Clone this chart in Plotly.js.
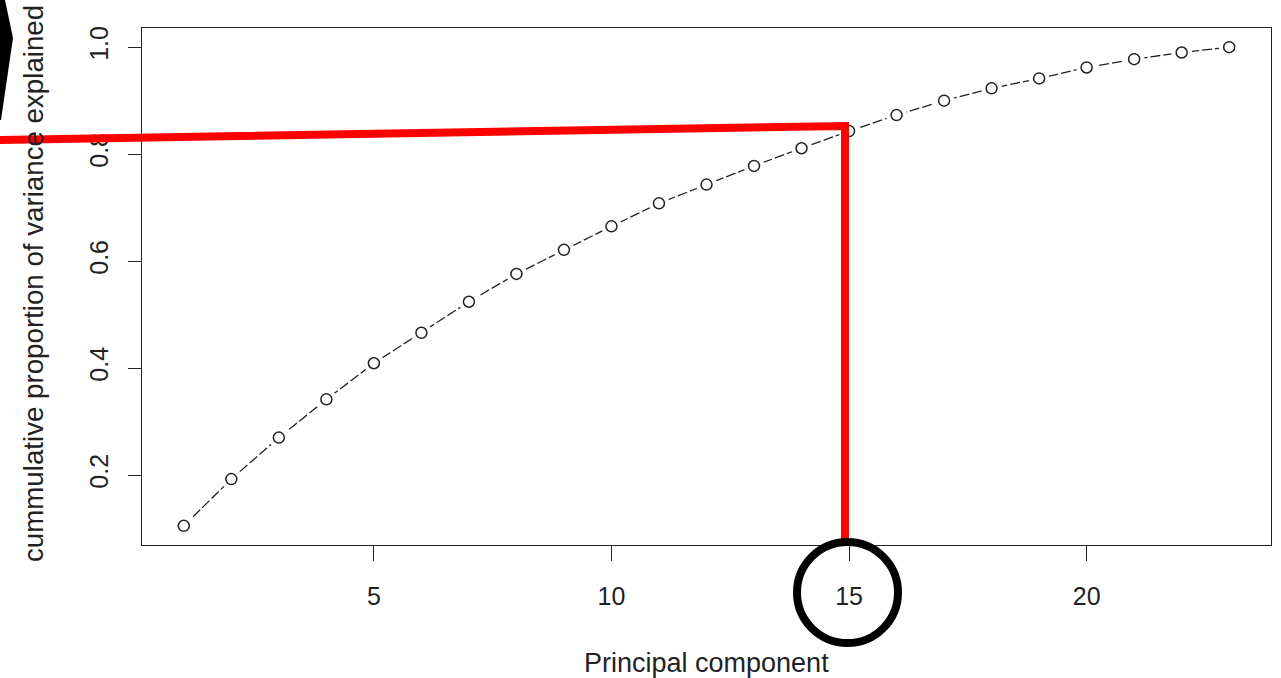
<!DOCTYPE html>
<html>
<head>
<meta charset="utf-8">
<script src="https://cdn.plot.ly/plotly-3.0.1.min.js"></script>
<style>
html,body{margin:0;padding:0;background:#fff;}
#chart{width:1281px;height:678px;}
</style>
</head>
<body>
<div id="chart"></div>
<script>
// ---- data ----
var components = [1,2,3,4,5,6,7,8,9,10,11,12,13,14,15,16,17,18,19,20,21,22,23];
var cumVariance = [0.105,0.1925,0.270,0.3415,0.409,0.466,0.524,0.576,0.621,0.665,0.708,0.743,0.778,0.811,0.843,0.873,0.900,0.923,0.9415,0.962,0.9775,0.990,1.000];
var xTickVals = [5,10,15,20];
var xTickText = ['5','10','15','20'];
var yTickVals = [0.2,0.4,0.6,0.8,1.0];
var yTickText = ['0.2','0.4','0.6','0.8','1.0'];
var xTitle = 'Principal component';
var yTitle = 'cummulative proportion of variance explained';

// ---- layout geometry (pixels) ----
var W = 1281, H = 678;
var L = 142, R = 1271, T = 28, B = 545;
function px(x){ return (x - L) / (R - L); }
function py(y){ return (B - y) / (B - T); }

var ink = '#222';
var fontFam = '"Liberation Sans", Arial, sans-serif';

// R-style padded ranges (4%)
var xmin = Math.min.apply(null, components), xmax = Math.max.apply(null, components);
var ymin = Math.min.apply(null, cumVariance), ymax = Math.max.apply(null, cumVariance);
var xpad = 0.04 * (xmax - xmin), ypad = 0.04 * (ymax - ymin);

var traces = [
  { x: components, y: cumVariance, type: 'scatter', mode: 'lines',
    line: { color: ink, width: 1.3, dash: '10px,3px' }, hoverinfo: 'skip', showlegend: false },
  { x: components, y: cumVariance, type: 'scatter', mode: 'markers',
    marker: { symbol: 'circle', size: 21, color: '#fff', line: { width: 0 } },
    hoverinfo: 'skip', showlegend: false },
  { x: components, y: cumVariance, type: 'scatter', mode: 'markers',
    marker: { symbol: 'circle-open', size: 11, color: ink, line: { color: ink, width: 1.5 } },
    showlegend: false }
];

function P(x, y){ return px(x).toFixed(5) + ',' + py(y).toFixed(5); }

var shapes = [
  // black wedge at top-left corner
  { type: 'path', xref: 'paper', yref: 'paper', layer: 'above',
    path: 'M' + P(0,0) + ' L' + P(5,0) + ' L' + P(13,38) + ' L' + P(1,120) + ' L' + P(0,120) + ' Z',
    fillcolor: '#000', line: { width: 0 } },
  // red highlight lines
  { type: 'path', xref: 'paper', yref: 'paper', layer: 'above',
    path: 'M' + P(-5,140) + ' L' + P(845,126) + ' L' + P(845,545),
    line: { color: '#ff0000', width: 8 } },
  // black circle around tick 15
  { type: 'circle', xref: 'paper', yref: 'paper', layer: 'above',
    x0: px(797), x1: px(898), y0: py(643), y1: py(542),
    line: { color: '#000', width: 8 }, fillcolor: 'rgba(0,0,0,0)' }
];

var annotations = [
  { text: yTitle, xref: 'paper', yref: 'paper', x: px(33), y: py(284),
    xanchor: 'center', yanchor: 'middle', textangle: -90, showarrow: false,
    font: { size: 27.7, color: ink, family: fontFam } },
  { text: xTitle, xref: 'paper', yref: 'paper', x: px(706), y: py(663),
    xanchor: 'center', yanchor: 'middle', showarrow: false,
    font: { size: 27, color: ink, family: fontFam } }
];

var layout = {
  width: W, height: H,
  margin: { l: L, r: W - R, t: T, b: H - B, pad: 0 },
  paper_bgcolor: '#fff', plot_bgcolor: '#fff',
  font: { family: fontFam, size: 26, color: ink },
  showlegend: false,
  xaxis: {
    range: [xmin - xpad, xmax + xpad], autorange: false,
    tickmode: 'array', tickvals: xTickVals, ticktext: xTickText,
    ticks: 'outside', ticklen: 15, tickwidth: 1, tickcolor: ink,
    ticklabelstandoff: 14,
    showgrid: false, zeroline: false,
    showline: true, mirror: true, linecolor: ink, linewidth: 1,
    tickfont: { size: 25, color: ink, family: fontFam },
    automargin: false
  },
  yaxis: {
    range: [ymin - ypad, ymax + ypad], autorange: false,
    tickmode: 'array', tickvals: yTickVals, ticktext: yTickText,
    ticks: 'outside', ticklen: 13, tickwidth: 1, tickcolor: ink,
    tickangle: -90, ticklabelstandoff: 10,
    showgrid: false, zeroline: false,
    showline: true, mirror: true, linecolor: ink, linewidth: 1,
    tickfont: { size: 25, color: ink, family: fontFam },
    automargin: false
  },
  shapes: shapes,
  annotations: annotations
};

Plotly.newPlot('chart', traces, layout, { staticPlot: true, displayModeBar: false });
</script>
</body>
</html>
